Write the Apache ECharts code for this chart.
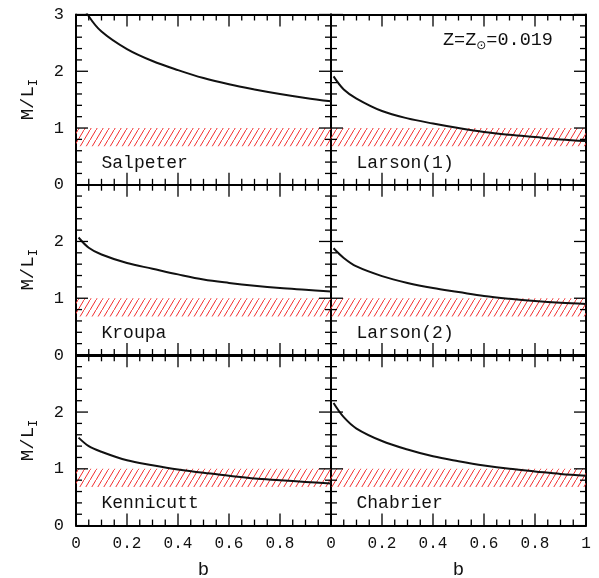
<!DOCTYPE html>
<html>
<head>
<meta charset="utf-8">
<script src="https://cdn.jsdelivr.net/npm/echarts@6/dist/echarts.min.js"></script>
<style>html,body{margin:0;padding:0;background:#fff}#c{width:599px;height:578px}</style>
</head>
<body>
<div id="c"></div>
<script>
// ---- data ----
const bValues   = [0.01, 0.05, 0.1, 0.2, 0.3, 0.4, 0.5, 0.6, 0.7, 0.8, 0.9, 1.0];
const salpeter  = [3.30, 2.97, 2.70, 2.39, 2.18, 2.02, 1.88, 1.77, 1.68, 1.60, 1.53, 1.47];
const larson1   = [1.91, 1.68, 1.52, 1.30, 1.17, 1.08, 1.00, 0.93, 0.88, 0.84, 0.80, 0.77];
const kroupa    = [2.07, 1.89, 1.77, 1.62, 1.52, 1.42, 1.33, 1.27, 1.22, 1.18, 1.15, 1.12];
const larson2   = [1.88, 1.71, 1.56, 1.39, 1.27, 1.18, 1.11, 1.04, 0.99, 0.95, 0.92, 0.90];
const kennicutt = [1.55, 1.40, 1.30, 1.15, 1.065, 0.99, 0.93, 0.88, 0.83, 0.80, 0.77, 0.74];
const chabrier  = [2.16, 1.91, 1.71, 1.49, 1.34, 1.22, 1.135, 1.06, 1.00, 0.955, 0.91, 0.88];
const panelNames = ['Salpeter', 'Larson(1)', 'Kroupa', 'Larson(2)', 'Kennicutt', 'Chabrier'];
const panelData  = [salpeter, larson1, kroupa, larson2, kennicutt, chabrier];
const band = [0.68, 1.0];          // observed M/L_I range (hatched)
const xRange = [0, 1], xMajor = 0.2;
const yRange = [0, 3], yMajor = 1;
const xTickValues = [0, 0.05, 0.1, 0.15, 0.2, 0.25, 0.3, 0.35, 0.4, 0.45, 0.5,
                     0.55, 0.6, 0.65, 0.7, 0.75, 0.8, 0.85, 0.9, 0.95, 1];
const yTickValues = [0, 0.2, 0.4, 0.6, 0.8, 1, 1.2, 1.4, 1.6, 1.8, 2,
                     2.2, 2.4, 2.6, 2.8, 3];

// ---- hatch pattern ----
const pc = document.createElement('canvas');
pc.width = 6; pc.height = 10;
const g = pc.getContext('2d');
g.strokeStyle = '#f23030';
g.lineWidth = 1;
g.beginPath();
g.moveTo(-1.2, 12); g.lineTo(7.2, -2);
g.stroke();
const hatch = {image: pc, repeat: 'repeat'};

// ---- layout ----
const FONT = 'Liberation Mono';
const colLeft = [76, 331], colW = 255;
const rowTop = [14.5, 184.7, 355.3], rowH = 170.3;
const MAJ = 12, MIN = 6;

const grids = [], xAxes = [], yAxes = [], series = [], graphics = [];
function ax(kind, gi, pos, interval, extra) {
  const isX = kind === 'x';
  return Object.assign({
    type: 'value', gridIndex: gi, position: pos,
    min: isX ? xRange[0] : yRange[0], max: isX ? xRange[1] : yRange[1], interval: interval,
    axisLine: {show: true, onZero: false, lineStyle: {color: '#000', width: 2}},
    axisTick: {show: false},
    axisLabel: {show: false},
    splitLine: {show: false}
  }, extra || {});
}
function isMajor(v, step) { return Math.abs(v / step - Math.round(v / step)) < 1e-6; }
const tickStyle = {stroke: '#000', lineWidth: 1.3};

for (let r = 0; r < 3; r++) {
  for (let c = 0; c < 2; c++) {
    const i = r * 2 + c;
    grids.push({left: colLeft[c], top: rowTop[r], width: colW, height: rowH,
                containLabel: false, outerBoundsMode: 'none'});
    const showX = r === 2, showY = c === 0;
    const xi = xAxes.length, yi = yAxes.length;
    xAxes.push(ax('x', i, 'bottom', xMajor, {
      axisLabel: {show: showX, margin: 10, color: '#111', fontFamily: FONT, fontSize: 16,
        formatter: v => (c === 0 && v === 1) ? '' : String(+v.toFixed(1))},
      name: showX ? 'b' : '', nameLocation: 'middle', nameGap: 35,
      nameTextStyle: {fontFamily: FONT, fontSize: 19, color: '#111'}
    }));
    xAxes.push(ax('x', i, 'top', xMajor));
    yAxes.push(ax('y', i, 'left', yMajor, {
      axisLabel: {show: showY, margin: 12, color: '#111', fontFamily: FONT, fontSize: 17,
        formatter: v => (r > 0 && v === 3) ? '' : String(v)},
      name: showY ? '{n|M/L}{s|I}' : '', nameLocation: 'middle', nameGap: 36, nameRotate: 90,
      nameTextStyle: {fontFamily: FONT, fontSize: 19, color: '#111',
        rich: {n: {fontFamily: FONT, fontSize: 19, color: '#111', lineHeight: 24, verticalAlign: 'middle'},
               s: {fontFamily: FONT, fontSize: 12, color: '#111', lineHeight: 24, verticalAlign: 'bottom'}}}
    }));
    yAxes.push(ax('y', i, 'right', yMajor));

    // x ticks (bottom + top, pointing inward)
    series.push({
      type: 'custom', xAxisIndex: xi, yAxisIndex: yi, silent: true, clip: false, z: 6,
      data: xTickValues.map(v => [v, yRange[0]]),
      renderItem: function (params, api) {
        const v = api.value(0);
        const L = isMajor(v, xMajor) ? MAJ : MIN;
        const pb = api.coord([v, yRange[0]]), pt = api.coord([v, yRange[1]]);
        return {type: 'group', children: [
          {type: 'line', shape: {x1: pb[0], y1: pb[1], x2: pb[0], y2: pb[1] - L}, style: tickStyle},
          {type: 'line', shape: {x1: pt[0], y1: pt[1], x2: pt[0], y2: pt[1] + L}, style: tickStyle}
        ]};
      }
    });
    // y ticks (left + right, pointing inward)
    series.push({
      type: 'custom', xAxisIndex: xi, yAxisIndex: yi, silent: true, clip: false, z: 6,
      data: yTickValues.map(v => [xRange[0], v]),
      renderItem: function (params, api) {
        const v = api.value(1);
        const L = isMajor(v, yMajor) ? MAJ : MIN;
        const pl = api.coord([xRange[0], v]), pr = api.coord([xRange[1], v]);
        return {type: 'group', children: [
          {type: 'line', shape: {x1: pl[0], y1: pl[1], x2: pl[0] + L, y2: pl[1]}, style: tickStyle},
          {type: 'line', shape: {x1: pr[0], y1: pr[1], x2: pr[0] - L, y2: pr[1]}, style: tickStyle}
        ]};
      }
    });

    const d = panelData[i];
    series.push({
      type: 'line', xAxisIndex: xi, yAxisIndex: yi,
      data: bValues.map((b, k) => [b, d[k]]),
      showSymbol: false, symbol: 'none', smooth: 0.35, clip: true,
      lineStyle: {color: '#111', width: 2},
      silent: true, z: 5,
      markArea: {silent: true, itemStyle: {color: hatch},
        data: [[{xAxis: 0, yAxis: band[0]}, {xAxis: 1, yAxis: band[1]}]]}
    });
    graphics.push({
      type: 'text', left: colLeft[c] + 25.5, top: rowTop[r] + rowH - 31,
      style: {text: panelNames[i], font: '18px "' + FONT + '"', fill: '#111'}
    });
  }
}
graphics.push({
  type: 'text', left: 443, top: 31,
  style: {
    text: '{n|Z=Z}{s|⊙}{n|=0.019}',
    rich: {n: {font: '18.5px "' + FONT + '"', fill: '#111', lineHeight: 22, verticalAlign: 'middle'},
           s: {font: '12px "DejaVu Sans"', fill: '#111', lineHeight: 22, verticalAlign: 'bottom'}}
  }
});

const chart = echarts.init(document.getElementById('c'), null, {renderer: 'canvas'});
chart.setOption({
  animation: false,
  backgroundColor: '#fff',
  textStyle: {fontFamily: FONT},
  grid: grids, xAxis: xAxes, yAxis: yAxes, series: series, graphic: graphics
});
</script>
</body>
</html>
